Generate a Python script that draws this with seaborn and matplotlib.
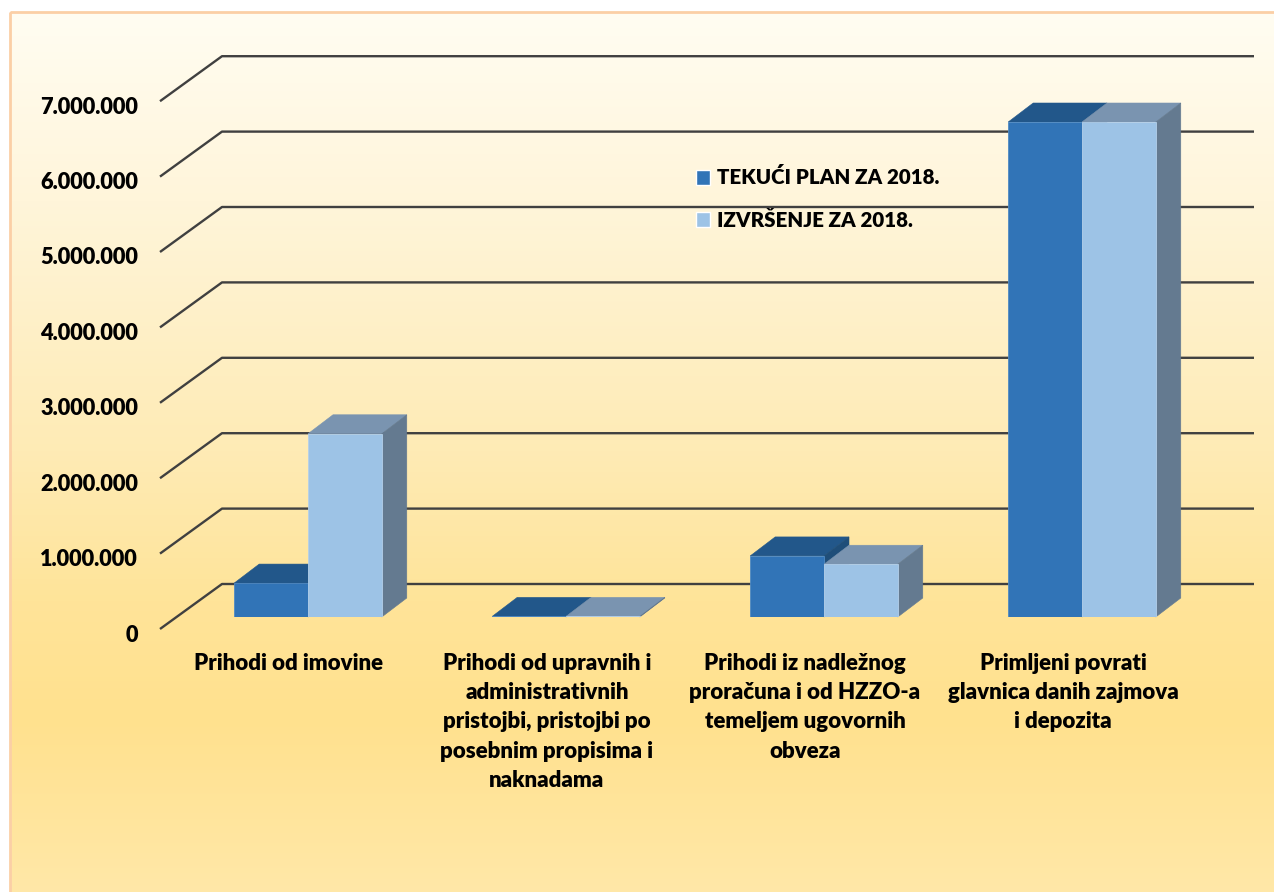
# 3D-look column chart: seaborn draws the front faces, the depth is added on top
import numpy as np
import pandas as pd
import matplotlib.pyplot as plt
import seaborn as sns
from matplotlib.colors import to_rgb
from matplotlib.patches import Patch, Polygon, Rectangle
from matplotlib.transforms import Affine2D

# data
categories = [
    "Prihodi od imovine",
    "Prihodi od upravnih i\nadministrativnih\npristojbi, pristojbi po\nposebnim propisima i\nnaknadama",
    "Prihodi iz nadležnog\nproračuna i od HZZO-a\ntemeljem ugovornih\nobveza",
    "Primljeni povrati\nglavnica danih zajmova\ni depozita",
]
series_names = ["TEKUĆI PLAN ZA 2018.", "IZVRŠENJE ZA 2018."]
plan_values = [450000, 8000, 810000, 6565000]
actual_values = [2430000, 8000, 700000, 6565000]
y_ticks = [0, 1000000, 2000000, 3000000, 4000000, 5000000, 6000000, 7000000]
y_labels = ["0", "1.000.000", "2.000.000", "3.000.000", "4.000.000", "5.000.000", "6.000.000", "7.000.000"]

# styles
W, H = 1274, 892
DPI = 100
FRONT = ["#3174B7", "#9DC3E6"]
TOP = ["#22578A", "#7A94B0"]
SIDE = ["#1F4E79", "#647A90"]
EDGE = ["#4F8AC4", "#B4D0EA"]
GRID = "#404040"
TEXT_WEIGHT = 800
PX_PER_CAT = 258.0
PX_PER_UNIT = 75.4 / 1000000

sns.set_theme(style="white")
plt.rcParams["font.family"] = ["Lato", "DejaVu Sans"]
plt.rcParams["font.weight"] = TEXT_WEIGHT

fig = plt.figure(figsize=(W / DPI, H / DPI), dpi=DPI, facecolor="white")

# background panel with vertical gradient
bg = fig.add_axes([0, 0, 1, 1], zorder=0)
bg.set_axis_off()
stops_y = [12, 200, 450, 600, 720, 892]
stops_c = np.array([to_rgb(c) for c in ["#FFFDF2", "#FFF5DA", "#FEEBB5", "#FFE499", "#FFE18E", "#FFE8A8"]])
rows = np.arange(12, H)
grad = np.stack([np.interp(rows, stops_y, stops_c[:, i]) for i in range(3)], axis=1)[:, None, :]
bg.imshow(grad, extent=(10, W, H, 12), aspect="auto", zorder=1)
bg.set_xlim(0, W)
bg.set_ylim(H, 0)
bg.add_patch(Rectangle((10, 12), W + 20, H + 20, fill=False, ec="#FBCFA6", lw=2, zorder=2))

# main axes, placed on the plane of the bar fronts
ax = fig.add_axes([179 / W, 1 - 617 / H, 1032 / W, 7 * 75.4 / H], zorder=1)
ax.patch.set_alpha(0)

df = pd.DataFrame({
    "kategorija": categories * 2,
    "serija": [series_names[0]] * 4 + [series_names[1]] * 4,
    "iznos": plan_values + actual_values,
})
sns.barplot(
    data=df,
    x="kategorija",
    y="iznos",
    hue="serija",
    palette=FRONT,
    saturation=1,
    width=0.572,
    legend=False,
    ax=ax,
)
ax.set_xlim(-0.5, 3.5)
ax.set_ylim(0, 7000000)
ax.set_xlabel("")
ax.set_ylabel("")
sns.despine(ax=ax, left=True, bottom=True)

# depth of one bar, in data units
dx = 25 / PX_PER_CAT
dy = 19 / PX_PER_UNIT

for s, container in enumerate(ax.containers):
    z = 3 + s
    for bar in container:
        x0 = bar.get_x()
        x1 = x0 + bar.get_width()
        h = bar.get_height()
        bar.set_zorder(z + 0.2)
        bar.set_edgecolor(EDGE[s])
        bar.set_linewidth(0.6)
        ax.add_patch(Polygon([(x0, h), (x0 + dx, h + dy), (x1 + dx, h + dy), (x1, h)],
                             fc=TOP[s], ec=TOP[s], lw=0.4, zorder=z, clip_on=False))
        ax.add_patch(Polygon([(x1, 0), (x1 + dx, dy), (x1 + dx, h + dy), (x1, h)],
                             fc=SIDE[s], ec=SIDE[s], lw=0.4, zorder=z, clip_on=False))

# grid lines: left wall going back, then along the back wall
fx = -0.5 - 19 / PX_PER_CAT
fy = -12 / PX_PER_UNIT
bx = -0.5 + 43 / PX_PER_CAT
by = 33 / PX_PER_UNIT
for t in y_ticks:
    ax.plot([fx, bx, 3.5 + 43 / PX_PER_CAT], [t + fy, t + by, t + by],
            color=GRID, lw=1.7, zorder=1, clip_on=False, solid_capstyle="butt")

# tick labels sit on the front plane, so shift them from the bar plane
ax.set_yticks(y_ticks, labels=y_labels)
ax.tick_params(axis="y", length=0, pad=29.5, labelsize=15.7)
ax.tick_params(axis="x", length=0, pad=26, labelsize=16)
shift_y = Affine2D().translate(0, -16)
for lab in ax.get_yticklabels():
    lab.set_transform(lab.get_transform() + shift_y)
    lab.set_fontweight(TEXT_WEIGHT)
    lab.set_color("black")
shift_x = Affine2D().translate(-19, 0)
ax.set_xticks(range(4), labels=categories)
for lab in ax.get_xticklabels():
    lab.set_transform(lab.get_transform() + shift_x)
    lab.set_fontweight(TEXT_WEIGHT)
    lab.set_color("black")
    lab.set_linespacing(1.48)
    lab.set_multialignment("center")

# legend
handles = [Patch(facecolor=FRONT[i], label=series_names[i]) for i in range(2)]
leg = fig.legend(
    handles=handles,
    loc="upper left",
    bbox_to_anchor=(696 / W, 1 - 167.5 / H),
    frameon=False,
    fontsize=14.8,
    handlelength=0.7,
    handleheight=0.7,
    handletextpad=0.3,
    labelspacing=1.13,
    borderpad=0,
    borderaxespad=0,
)
for txt in leg.get_texts():
    txt.set_fontweight(TEXT_WEIGHT)
    txt.set_color("black")

fig.savefig("out.png", dpi=DPI)
